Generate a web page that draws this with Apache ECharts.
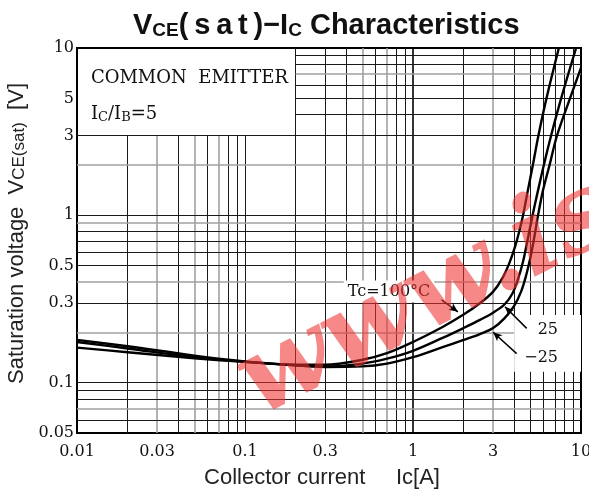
<!DOCTYPE html>
<html><head><meta charset="utf-8">
<script src="https://cdn.jsdelivr.net/npm/echarts@6/dist/echarts.min.js"></script>
<style>html,body{margin:0;padding:0;background:#fff}#c{width:589px;height:498px}</style>
</head><body><div id="c"></div>
<script>
// ---- data ----
const ic100 = [0.01,0.02,0.05,0.1,0.2,0.3,0.5,0.7,1.0,1.5,2.0,2.5,3.0,3.4,3.75,4.05,4.3,4.52,4.82,5.17,5.58,6.23,7.38];
const v100  = [0.162,0.152,0.14,0.133,0.128,0.128,0.137,0.15,0.175,0.215,0.255,0.298,0.35,0.42,0.52,0.65,0.81,1.0,1.4,2.0,3.0,5.0,10];
const ic25  = [0.01,0.02,0.05,0.1,0.2,0.3,0.5,0.7,1.0,1.5,2.0,2.5,3.0,3.5,3.9,4.23,4.52,4.75,4.92,5.15,5.54,6.01,6.64,7.62,9.35];
const v25   = [0.175,0.16,0.142,0.133,0.127,0.125,0.13,0.139,0.155,0.185,0.212,0.237,0.262,0.293,0.34,0.42,0.53,0.67,0.8,1.0,1.4,2.0,3.0,5.0,10];
const icm25 = [0.01,0.02,0.05,0.1,0.2,0.3,0.5,0.7,1.0,1.5,2.0,2.5,3.0,3.5,4.0,4.4,4.72,5.0,5.22,5.4,5.55,5.93,6.5,7.2,8.6,10];
const vm25  = [0.18,0.165,0.145,0.134,0.127,0.124,0.125,0.13,0.142,0.163,0.18,0.195,0.212,0.242,0.288,0.35,0.44,0.56,0.7,0.85,1.0,1.4,2.0,3.0,5.0,7.6];

const xTickLabels = [0.01,0.03,0.1,0.3,1,3,10];
const yTickLabels = [0.05,0.1,0.3,0.5,1,3,5,10];
const xGridValues = [0.02,0.03,0.04,0.05,0.06,0.07,0.08,0.09,0.1,0.2,0.3,0.4,0.5,0.6,0.7,0.8,0.9,1,2,3,4,5,6,7,8,9];
const yGridValues = [0.06,0.07,0.08,0.09,0.1,0.2,0.3,0.4,0.5,0.6,0.7,0.8,0.9,1,2,3,4,5,6,7,8,9];
const xGrayLines = [0.03,0.05,0.07,0.5,0.7,3];
const yGrayLines = [0.07,0.2,0.4,0.9,2,7];
const xRange = [0.01,10], yRange = [0.05,10];
const boxCorner = [0.2,3];       // legend box: x 0.01..0.2, y 3..10
const labelTexts = {tc:'Tc=100°C', t25:'25', tm25:'\u221225'};

// ---- helpers ----
const pairs = (xs, ys) => xs.map((x,i)=>[x, ys[i]]);
const fmt = v => String(+(+v).toPrecision(3));
const blackLine = {color:'#1a1a1a', width:1, type:'solid'};
const grayLine  = {color:'#a0a0a0', width:1.6, type:'solid'};
const heavyLine = {color:'#000', width:1.6, type:'solid'};

const gridMarks = [];
xGridValues.forEach(x => {
  const top = x < boxCorner[0] ? boxCorner[1] : yRange[1];
  const st = xGrayLines.includes(x) ? grayLine : (x===1 ? heavyLine : blackLine);
  gridMarks.push([{coord:[x, yRange[0]], lineStyle: st}, {coord:[x, top]}]);
});
yGridValues.forEach(y => {
  const left = y > boxCorner[1] ? boxCorner[0] : xRange[0];
  const st = yGrayLines.includes(y) ? grayLine : blackLine;
  gridMarks.push([{coord:[left, y], lineStyle: st}, {coord:[xRange[1], y]}]);
});

// arrows (data coordinates, start -> tip)
const arrowMarks = [
  [{coord:[1.48,0.312]},{coord:[1.85,0.265]}],
  [{coord:[4.75,0.211]},{coord:[3.53,0.284]}],
  [{coord:[4.14,0.149]},{coord:[3.0,0.2]}]
];

const serif = 'DejaVu Serif', sans = 'Liberation Sans';
const curveStyle = {color:'#000', width:2.4};

const chart = echarts.init(document.getElementById('c'));
chart.setOption({
  animation:false,
  backgroundColor:'#fff',
  title:{
    text:'{a|V}{b|CE}{a|(\u2009s\u2009a\u2009t\u2009)\u2212I}{b|C}{a| Characteristics}',
    left:128, top:3,
    textStyle:{rich:{
      a:{fontFamily:sans, fontWeight:'bold', fontSize:29, lineHeight:32, color:'#111', verticalAlign:'bottom'},
      b:{fontFamily:sans, fontWeight:'bold', fontSize:19, lineHeight:26, color:'#111', verticalAlign:'bottom'}
    }}
  },
  grid:{left:77, right:8, top:48, bottom:65, show:true, borderColor:'#000', borderWidth:2,
        backgroundColor:'transparent', outerBoundsMode:'none', containLabel:false},
  xAxis:{
    type:'log', logBase:10, min:xRange[0], max:xRange[1],
    axisLine:{show:false}, axisTick:{show:false}, splitLine:{show:false}, minorSplitLine:{show:false},
    axisLabel:{customValues:xTickLabels, formatter:fmt, fontFamily:serif, fontSize:16, color:'#111', margin:11},
    name:'Collector current     Ic[A]', nameLocation:'middle', nameGap:34,
    nameTextStyle:{fontFamily:sans, fontSize:22, color:'#222', padding:[0,14,0,0]}
  },
  yAxis:{
    type:'log', logBase:10, min:yRange[0], max:yRange[1],
    axisLine:{show:false}, axisTick:{show:false}, splitLine:{show:false}, minorSplitLine:{show:false},
    axisLabel:{customValues:yTickLabels, formatter:fmt, fontFamily:serif, fontSize:16, color:'#111', margin:3},
    name:'{a|Saturation voltage  V}{b|CE(sat)}{a|  [V]}', nameLocation:'middle', nameGap:43, nameRotate:90,
    nameTextStyle:{padding:[0,0,0,14], rich:{
      a:{fontFamily:sans, fontSize:22, lineHeight:26, color:'#222', verticalAlign:'bottom'},
      b:{fontFamily:sans, fontSize:17, lineHeight:22, color:'#222', verticalAlign:'bottom'}
    }}
  },
  series:[
    {type:'line', data:[], silent:true, z:1,
      markLine:{silent:true, symbol:['none','none'], label:{show:false}, z:1, animation:false,
        emphasis:{disabled:true}, data:gridMarks}},
    {type:'line', data:[], silent:true, z:2,
      markArea:{silent:true, z:2, itemStyle:{color:'#fff'}, label:{show:false},
        data:[[{coord:[4.0,0.116]},{coord:[xRange[1],0.254]}]]}},
    {name:'100', type:'line', data:pairs(ic100,v100), smooth:0.35, showSymbol:false, lineStyle:curveStyle, z:4},
    {name:'25', type:'line', data:pairs(ic25,v25), smooth:0.35, showSymbol:false, lineStyle:curveStyle, z:4},
    {name:'-25', type:'line', data:pairs(icm25,vm25), smooth:0.35, showSymbol:false, lineStyle:curveStyle, z:4},
    {type:'line', data:[], silent:true, z:5,
      markLine:{silent:true, symbol:['none','arrow'], symbolSize:[6,9], label:{show:false}, z:5, animation:false,
        lineStyle:{color:'#000', width:1.5, type:'solid'}, emphasis:{disabled:true}, data:arrowMarks}}
  ]
});

const px = (x,y) => chart.convertToPixel({xAxisIndex:0, yAxisIndex:0}, [x,y]);
const pBox1 = px(0.0121, 6.6), pBox2 = px(0.0121, 4.1);
const pTc = px(0.72, 0.35), p25 = px(7.3, 0.206), pm25 = px(7.3, 0.14);
const serifStyle = (t, extra) => Object.assign({text:t, fontFamily:serif, fontSize:16, fill:'#111'}, extra||{});
chart.setOption({graphic:[
  {type:'text', x:pBox1[0], y:pBox1[1], z:50, style:serifStyle('COMMON  EMITTER',{fontSize:18, align:'left', verticalAlign:'middle'})},
  {type:'text', x:pBox2[0], y:pBox2[1], z:50, style:{text:'{a|I}{s|C}{a|/I}{s|B}{a|=5}', align:'left', verticalAlign:'middle',
     rich:{a:{fontFamily:serif, fontSize:18, lineHeight:22, fill:'#111', verticalAlign:'bottom'},
           s:{fontFamily:serif, fontSize:13, lineHeight:10, fill:'#111', verticalAlign:'bottom'}}}},
  {type:'text', x:pTc[0], y:pTc[1], z:50, style:serifStyle(labelTexts.tc,{align:'center', verticalAlign:'middle', backgroundColor:'#fff', padding:[3,4,3,4]})},
  {type:'text', x:p25[0], y:p25[1], z:50, style:serifStyle(labelTexts.t25,{align:'right', verticalAlign:'middle'})},
  {type:'text', x:pm25[0], y:pm25[1], z:50, style:serifStyle(labelTexts.tm25,{align:'right', verticalAlign:'middle'})},
  {type:'text', x:246, y:392, rotation:0.47, z:100, silent:true,
     style:{text:'www.is', font:'italic bold 108px "DejaVu Serif"', fill:'rgba(240,50,50,0.58)', align:'left', verticalAlign:'middle'}}
]});
</script></body></html>
